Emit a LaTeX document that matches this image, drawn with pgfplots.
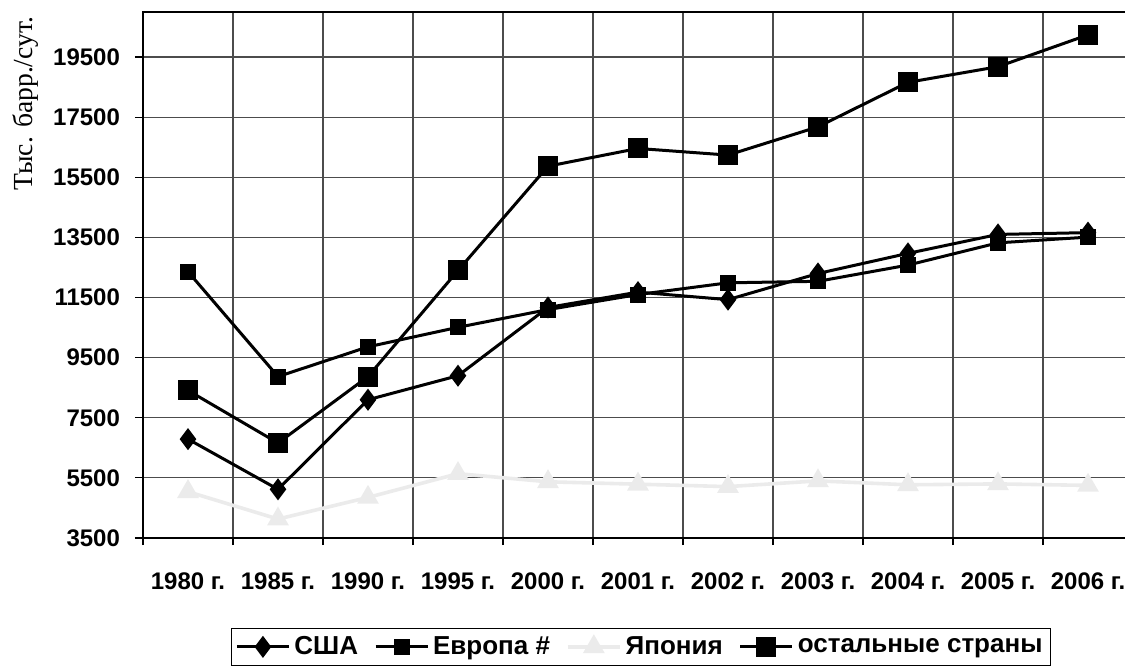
\documentclass[border=0pt]{standalone}
\usepackage{pgfplots}
\pgfplotsset{compat=1.18}
\usepackage{fontspec}
\setmainfont{Liberation Serif}
\setsansfont{Liberation Sans}
\definecolor{jap}{HTML}{EBEBEB}
\begin{document}
\begin{tikzpicture}
\clip (-71.5pt,-63.5pt) rectangle (491pt,269pt);
\begin{axis}[
  at={(0pt,0pt)}, anchor=south west,
  scale only axis, width=495pt, height=263pt,
  xmin=-0.5, xmax=10.5, ymin=3500, ymax=21000,
  xtick={0,1,2,3,4,5,6,7,8,9,10},
  xticklabels={1980 г.,1985 г.,1990 г.,1995 г.,2000 г.,2001 г.,2002 г.,2003 г.,2004 г.,2005 г.,2006 г.},
  major x tick style={draw=none},
  minor xtick={-0.5,0.5,1.5,2.5,3.5,4.5,5.5,6.5,7.5,8.5,9.5,10.5},
  xminorgrids,
  ytick={3500,5500,7500,9500,11500,13500,15500,17500,19500},
  scaled y ticks=false,
  ymajorgrids,
  tick align=outside, tick pos=left,
  major tick length=4pt, minor tick length=3.5pt,
  tick style={black, line width=0.6pt},
  grid style={draw=black!70, line width=0.6pt},
  axis line style={black, line width=0.8pt},
  /pgf/number format/assume math mode=true,
  /pgf/number format/set thousands separator={},
  ticklabel style={font=\sffamily\bfseries\fontsize{12}{14}\selectfont},
  xticklabel style={yshift=-10pt},
  yticklabel style={xshift=-4pt},
  ylabel={Тыс. барр./сут.},
  ylabel style={font=\fontsize{13.8}{15}\selectfont, at={(axis description cs:-0.119,0.826)}, anchor=center},
  legend columns=4,
  legend style={at={(axis description cs:0.503,-0.207)}, anchor=center,
    draw=black, line width=0.8pt, font=\sffamily\bfseries\fontsize{13}{15}\selectfont,
    inner sep=2pt, /tikz/every even column/.append style={column sep=6pt}},
  legend image code/.code={\draw[mark repeat=2,mark phase=2,#1] plot coordinates {(0pt,0pt) (13pt,0pt) (26pt,0pt)};},
]
\addplot[black, line width=1.5pt, mark=diamond*, mark size=4.3pt, mark options={solid}] coordinates {
(0,6790) (1,5120) (2,8100) (3,8900) (4,11170) (5,11680) (6,11430) (7,12300) (8,12970) (9,13600) (10,13660)};
\addlegendentry{США}
\addplot[black, line width=1.5pt, mark=square*, mark size=3.25pt, mark options={solid}] coordinates {
(0,12360) (1,8870) (2,9860) (3,10510) (4,11100) (5,11600) (6,11990) (7,12040) (8,12580) (9,13320) (10,13510)};
\addlegendentry{Европа \#}
\addplot[jap, line width=1.8pt, mark=triangle*, mark size=4.5pt, mark options={solid}] coordinates {
(0,5040) (1,4130) (2,4850) (3,5640) (4,5370) (5,5290) (6,5210) (7,5400) (8,5270) (9,5300) (10,5250)};
\addlegendentry{Япония}
\addplot[black, line width=1.5pt, mark=square*, mark size=4.25pt, mark options={solid}] coordinates {
(0,8410) (1,6660) (2,8870) (3,12400) (4,15870) (5,16460) (6,16240) (7,17180) (8,18660) (9,19180) (10,20240)};
\addlegendentry{остальные страны}
\end{axis}
\end{tikzpicture}
\end{document}
